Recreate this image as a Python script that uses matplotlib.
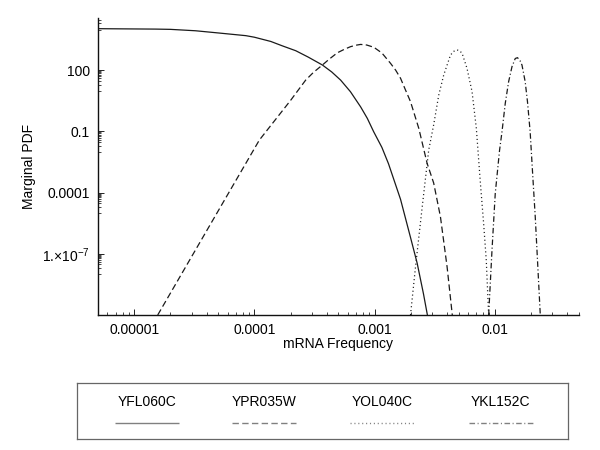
import matplotlib
matplotlib.use('Agg')
import matplotlib.pyplot as plt
from matplotlib.ticker import FixedLocator, FixedFormatter, NullFormatter
from matplotlib.lines import Line2D

plt.rcParams['font.family'] = ['Liberation Sans', 'DejaVu Sans']
plt.rcParams['mathtext.fontset'] = 'custom'
plt.rcParams['mathtext.rm'] = 'Liberation Sans'
plt.rcParams['mathtext.it'] = 'Liberation Sans:italic'
plt.rcParams['lines.scale_dashes'] = False
plt.rcParams['font.size'] = 10

genes = ['YFL060C', 'YPR035W', 'YOL040C', 'YKL152C']

# values (mRNA frequency, marginal PDF)
x_yfl060c = [5.0e-6, 1.51e-5, 2.0e-5, 3.24e-5, 5.0e-5, 8.5e-5, 1.0e-4, 1.37e-4, 1.7e-4,
             2.21e-4, 2.8e-4, 3.68e-4, 4.4e-4, 5.22e-4, 6.3e-4, 7.66e-4, 8.7e-4, 9.82e-4,
             1.15e-3, 1.306e-3, 1.644e-3, 1.995e-3, 2.26e-3, 2.55e-3, 2.75e-3]
y_yfl060c = [1.10e4, 1.05e4, 1.02e4, 8.7e3, 6.8e3, 5.0e3, 4.2e3, 2.6e3, 1.6e3,
             912, 447, 182, 83, 33, 8.9, 1.6, 0.44, 0.098,
             0.0166, 2.6e-3, 4.7e-5, 6.0e-7, 3.5e-8, 1.1e-9, 1e-10]

x_ypr035w = [1.57e-5, 1.10e-4, 2.01e-4, 2.67e-4, 3.1e-4, 3.68e-4, 4.2e-4, 4.90e-4, 5.6e-4,
             6.31e-4, 7.0e-4, 7.66e-4, 8.6e-4, 9.86e-4, 1.15e-3, 1.358e-3, 1.5e-3,
             1.644e-3, 1.8e-3, 1.99e-3, 2.33e-3, 2.735e-3, 3.10e-3, 3.53e-3, 4.01e-3, 4.43e-3]
y_ypr035w = [1e-10, 0.038, 3.47, 33, 79, 182, 355, 724, 1070,
             1445, 1700, 1862, 1740, 1349, 708, 219, 100,
             40.7, 11.5, 2.9, 0.145, 2.75e-3, 3.0e-4, 6.6e-6, 2.3e-8, 1e-10]

x_yol040c = [1.99e-3, 2.19e-3, 2.49e-3, 2.82e-3, 3.10e-3, 3.42e-3, 3.76e-3, 4.28e-3,
             4.55e-3, 4.85e-3, 5.1e-3, 5.35e-3, 5.87e-3, 6.47e-3, 7.02e-3, 7.59e-3,
             8.07e-3, 8.49e-3, 8.89e-3]
y_yol040c = [1e-10, 2.3e-8, 2.0e-5, 0.0123, 0.21, 6.2, 59, 562,
             850, 1000, 910, 676, 126, 8.9, 0.145, 2.9e-4,
             3.2e-6, 5.0e-8, 1e-10]

x_ykl152c = [8.89e-3, 9.48e-3, 1.009e-2, 1.096e-2, 1.148e-2, 1.222e-2, 1.303e-2, 1.39e-2,
             1.48e-2, 1.545e-2, 1.62e-2, 1.683e-2, 1.79e-2, 1.87e-2, 1.968e-2, 2.065e-2,
             2.17e-2, 2.265e-2, 2.39e-2]
y_ykl152c = [1e-10, 1.55e-7, 9.3e-5, 0.0123, 0.098, 2.4, 27.5, 151,
             380, 417, 300, 182, 27.5, 2.9, 0.098, 8.3e-4,
             6.6e-6, 5.0e-8, 1e-10]

xs = [x_yfl060c, x_ypr035w, x_yol040c, x_ykl152c]
ys = [y_yfl060c, y_ypr035w, y_yol040c, y_ykl152c]
styles = ['-', (0, (4.6, 2.4)), (0, (0.8, 2.0)), (0, (4.0, 1.8, 0.8, 1.8))]

y_ticks = [100, 0.1, 1e-4, 1e-7]
y_ticklabels = ['100', '0.1', '0.0001', '1.\u00d710$^{-7}$']
x_ticks = [1e-5, 1e-4, 1e-3, 1e-2]
x_ticklabels = ['0.00001', '0.0001', '0.001', '0.01']

fig = plt.figure(figsize=(6, 4.5), dpi=100)
ax = fig.add_axes([0.1633, 0.30, 0.8014, 0.6593])

for x, y, ls in zip(xs, ys, styles):
    ax.plot(x, y, color='#1a1a1a', lw=0.9, linestyle=ls, solid_capstyle='butt',
            dash_capstyle='butt', solid_joinstyle='round')

ax.set_xscale('log')
ax.set_yscale('log')
ax.set_xlim(5e-6, 0.05)
ax.set_ylim(1e-10, 10 ** 4.55)

ax.xaxis.set_major_locator(FixedLocator(x_ticks))
ax.xaxis.set_major_formatter(FixedFormatter(x_ticklabels))
xminor = [k * 10.0 ** e for e in range(-6, -1) for k in range(2, 10)]
ax.xaxis.set_minor_locator(FixedLocator(xminor))
ax.xaxis.set_minor_formatter(NullFormatter())

ax.yaxis.set_major_locator(FixedLocator(y_ticks))
ax.yaxis.set_major_formatter(FixedFormatter(y_ticklabels))
yminor = [k * 10.0 ** (m - 1) for m in (5, 2, -1, -4, -7, -10) for k in range(1, 10)]
ax.yaxis.set_minor_locator(FixedLocator(yminor))
ax.yaxis.set_minor_formatter(NullFormatter())

ax.tick_params(which='major', direction='in', length=4, width=0.6, pad=6, labelsize=10)
ax.tick_params(which='minor', direction='in', length=2.2, width=0.5)

for s in ('top', 'right'):
    ax.spines[s].set_visible(False)
for s in ('left', 'bottom'):
    ax.spines[s].set_linewidth(1.0)
    ax.spines[s].set_color('#111111')

ax.set_xlabel('mRNA Frequency', fontsize=10, labelpad=0)
ax.set_ylabel('Marginal PDF', fontsize=10, labelpad=4)

# legend box with labels above line samples
lax = fig.add_axes([0.1283, 0.0244, 0.818, 0.1244])
lax.set_xlim(0, 1)
lax.set_ylim(0, 1)
lax.set_xticks([])
lax.set_yticks([])
for s in lax.spines.values():
    s.set_color('#666666')
    s.set_linewidth(0.9)
centers = [0.1426, 0.381, 0.621, 0.8635]
for c, g, ls in zip(centers, genes, styles):
    lax.text(c, 0.66, g, ha='center', va='center', fontsize=10, color='black')
    lax.add_line(Line2D([c - 0.065, c + 0.065], [0.286, 0.286], color='#808080',
                        lw=1.0, linestyle=ls, solid_capstyle='butt', dash_capstyle='butt'))

fig.savefig('out.png', dpi=100)
